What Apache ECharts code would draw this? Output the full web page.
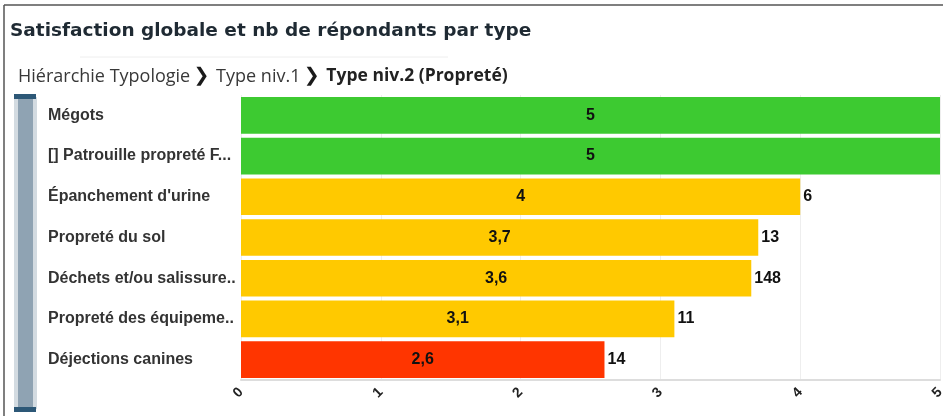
<!DOCTYPE html>
<html><head><meta charset="utf-8">
<script src="https://cdn.jsdelivr.net/npm/echarts@6/dist/echarts.min.js"></script>
<style>html,body{margin:0;padding:0;background:#fff}#c{width:943px;height:416px}</style>
</head><body><div id="c"></div>
<script>
var categories = ["Mégots", "[] Patrouille propreté F...", "Épanchement d'urine", "Propreté du sol", "Déchets et/ou salissure..", "Propreté des équipeme..", "Déjections canines"];
var satisfaction = [5, 5, 4, 3.7, 3.65, 3.1, 2.6];
var respondents = [null, null, 6, 13, 148, 11, 14];
var xTicks = [0, 1, 2, 3, 4, 5];

function colorFor(v){ return v >= 4.5 ? '#3dca31' : (v >= 3 ? '#ffc900' : '#ff3500'); }
function fmt(v){ return (Math.floor(v*10+1e-6)/10).toString().replace('.', ','); }

var chart = echarts.init(document.getElementById('c'), null, {renderer:'canvas'});
chart.setOption({
  animation: false,
  backgroundColor: '#fff',
  grid: {left: 241, right: 3, top: 95, bottom: 36, containLabel: false, outerBoundsMode: 'none'},
  xAxis: {
    type: 'value', min: xTicks[0], max: xTicks[xTicks.length-1], interval: 1,
    axisLine: {show: true, lineStyle: {color: '#dddddd', width: 2}}, axisTick: {show: false},
    splitLine: {show: true, lineStyle: {color: '#eeeeee', width: 1}},
    axisLabel: {rotate: 45, margin: 10, color: '#222', fontFamily: 'Liberation Sans', fontWeight: 'bold', fontSize: 14,
      formatter: function(v){ return xTicks.indexOf(v) >= 0 ? String(v) : ''; }}
  },
  yAxis: {
    type: 'category', data: categories, inverse: true,
    axisLine: {show: false}, axisTick: {show: false},
    axisLabel: {align: 'left', margin: 193, color: '#333', fontFamily: 'Liberation Sans', fontWeight: 'bold', fontSize: 16}
  },
  series: [
    {
      type: 'bar', barCategoryGap: '10%',
      data: satisfaction.map(function(v){ return {value: v, itemStyle: {color: colorFor(v)}}; }),
      label: {show: true, position: 'right', distance: 3, color: '#111', fontFamily: 'Liberation Sans', fontWeight: 'bold', fontSize: 16,
        formatter: function(p){ var c = respondents[p.dataIndex]; return c == null ? '' : String(c); }},
      z: 2
    },
    {
      type: 'bar', barCategoryGap: '10%', barGap: '-100%',
      data: satisfaction,
      itemStyle: {color: 'rgba(0,0,0,0)'},
      label: {show: true, position: 'inside', color: '#111', fontFamily: 'Liberation Sans', fontWeight: 'bold', fontSize: 16,
        formatter: function(p){ return fmt(p.value); }},
      silent: true, z: 3
    }
  ],
  graphic: [
    {type: 'line', shape: {x1: 4, y1: 5, x2: 4, y2: 416}, style: {stroke: '#555', lineWidth: 1.5}},
    {type: 'line', shape: {x1: 4, y1: 5, x2: 943, y2: 5}, style: {stroke: '#555', lineWidth: 1.5}},
    {type: 'text', left: 10, top: 22, style: {text: 'Satisfaction globale et nb de répondants par type', fill: '#1f2a33', font: 'bold 18.5px "DejaVu Sans"'}},
    {type: 'line', shape: {x1: 80, y1: 57, x2: 448, y2: 57}, style: {stroke: '#eeeeee', lineWidth: 1}},
    {type: 'text', left: 18, top: 67, style: {
      text: '{a|Hiérarchie Typologie} {c|❯}  {a|Type niv.1} {c|❯}  {b|Type niv.2 (Propreté)}',
      rich: {
        a: {fontFamily: 'Open Sans', fontSize: 18, fill: '#383838'},
        b: {fontFamily: 'Open Sans', fontWeight: 'bold', fontSize: 17.5, fill: '#222'},
        c: {fontFamily: 'DejaVu Sans', fontWeight: 'bold', fontSize: 19, fill: '#1a1a1a'}
      }}},
    {type: 'rect', shape: {x: 14, y: 97, width: 23, height: 312}, style: {fill: '#d3dbe1'}},
    {type: 'rect', shape: {x: 18, y: 97, width: 15, height: 312}, style: {fill: '#8fa3b3'}},
    {type: 'rect', shape: {x: 14, y: 94, width: 22, height: 5}, style: {fill: '#2d5877'}},
    {type: 'rect', shape: {x: 14, y: 407, width: 22, height: 5}, style: {fill: '#2d5877'}}
  ]
});
</script></body></html>
